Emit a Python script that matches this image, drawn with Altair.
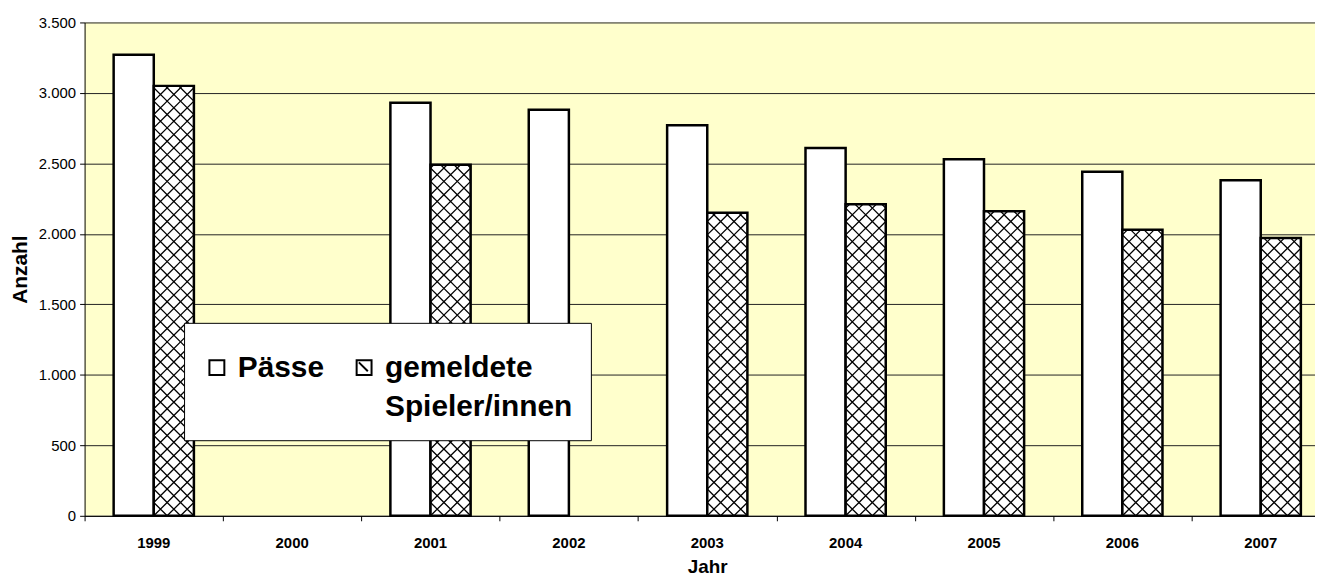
import altair as alt
import pandas as pd

# ---- data ----
years = ["1999", "2000", "2001", "2002", "2003", "2004", "2005", "2006", "2007"]
paesse = [3270, None, 2930, 2880, 2770, 2610, 2530, 2440, 2380]
gemeldet = [3050, None, 2490, None, 2150, 2210, 2160, 2030, 1970]
series = ["Pässe", "gemeldete Spieler/innen"]

rows = []
for y, p, g in zip(years, paesse, gemeldet):
    if p is not None:
        rows.append({"Jahr": y, "Serie": series[0], "Anzahl": p})
    if g is not None:
        rows.append({"Jahr": y, "Serie": series[1], "Anzahl": g})
df = pd.DataFrame(rows)

# ---- cross-hatch texture for the second series (derived from values) ----
RANGE_W = 1252
PLOT_H = 496
YMAX = 3500
cell_px = 0.29 * RANGE_W / 9 / 3          # three diamonds across a bar
cw = 0.29 / 3                              # cell width in category units
rs = cell_px / (PLOT_H / YMAX)             # cell height in value units
hx, hy, hs = [], [], []
for i, v in enumerate(gemeldet):
    if v is None:
        continue
    full = int(v // rs)
    rem = (v - full * rs) / rs
    nrows = full + (1 if rem > 0.05 else 0)
    for j in range(nrows):
        f = 1.0 if j < full else rem
        a = round(2 * f - 1, 3)
        b = round(1 - 2 * f, 3)
        path = f"M-1,1L{a},{b}M1,1L{b},{b}"
        for k in range(3):
            hx.append(i + 0.5 + (k + 0.5) * cw)
            hy.append((j + 0.5) * rs)
            hs.append(path)
hatch = pd.DataFrame({"hx": hx, "hy": hy, "shp": hs})

FONT = "Liberation Sans"
SQUARE = "M-1,-1L1,-1L1,1L-1,1Z"
SQUARE_HATCH = "M-1,-1L1,-1L1,1L-1,1ZM-0.7,-0.7L0.5,0.5"

yscale = alt.Scale(domain=[0, YMAX], nice=False)
xband = alt.Scale(domain=years, range=[0, RANGE_W], paddingInner=0.42, paddingOuter=0.21)
xcells = alt.Scale(domain=[0, 9], range=[0, RANGE_W], nice=False, zero=False)

bars = alt.Chart(df).mark_bar(stroke="black", strokeWidth=2.5).encode(
    x=alt.X(
        "Jahr:N",
        scale=xband,
        axis=alt.Axis(
            title="Jahr", orient="bottom", labelAngle=0, ticks=False, domainColor="black",
            labelFont=FONT, labelFontSize=15, labelFontWeight="bold",
            labelColor="black", labelPadding=20, titleFont=FONT, titleFontSize=19,
            titleFontWeight="bold", titleColor="black", titlePadding=7, grid=False,
        ),
    ),
    xOffset=alt.XOffset("Serie:N", scale=alt.Scale(domain=series, paddingInner=0, paddingOuter=0)),
    y=alt.Y(
        "Anzahl:Q",
        scale=yscale,
        axis=alt.Axis(
            title="Anzahl", values=list(range(0, 3501, 500)), tickSize=5, tickColor="black",
            domainColor="black", labelFont=FONT, labelFontSize=15, labelColor="black",
            labelPadding=4, labelExpr="replace(format(datum.value, ','), ',', '.')",
            titleFont=FONT, titleFontSize=21, titleFontWeight="bold", titleColor="black",
            titlePadding=8, grid=True, gridColor="#222222", gridWidth=1,
        ),
    ),
    fill=alt.value("white"),
)

texture = alt.Chart(hatch).mark_point(
    filled=False, stroke="black", strokeWidth=1.3, opacity=1, size=cell_px ** 2
).encode(
    x=alt.X(
        "hx:Q", scale=xcells,
        axis=alt.Axis(
            orient="bottom", values=list(range(0, 10)), labels=False, title=None,
            domain=False, ticks=True, tickSize=5, tickColor="black", grid=False,
        ),
    ),
    y=alt.Y("hy:Q", scale=yscale),
    shape=alt.Shape("shp:N", scale=None),
)

legend_src = alt.Chart(df).mark_point(filled=False, opacity=0).encode(
    x=alt.X("Jahr:N", scale=xband, axis=None),
    y=alt.Y("Anzahl:Q", scale=yscale),
    shape=alt.Shape(
        "Serie:N",
        scale=alt.Scale(domain=series, range=[SQUARE, SQUARE_HATCH]),
        legend=alt.Legend(
            title=" ", titleFontSize=6, titlePadding=6, orient="none", legendX=100,
            legendY=302, direction="horizontal", columns=2, columnPadding=25,
            padding=18, fillColor="white", strokeColor="black", symbolSize=225,
            symbolOpacity=1, symbolFillColor="white", symbolStrokeColor="black",
            symbolStrokeWidth=2, labelFont=FONT, labelFontSize=30,
            labelFontWeight="bold", labelColor="black", labelOffset=6, labelLimit=0,
            labelExpr="datum.label == 'gemeldete Spieler/innen' ? ['gemeldete', 'Spieler/innen'] : [datum.label, '']",
        ),
    ),
)

chart = alt.layer(bars, texture, legend_src).resolve_scale(x="independent").properties(
    width=1237, height=PLOT_H,
    autosize=alt.AutoSizeParams(type="none"),
    padding={"left": 77, "top": 13, "right": 0, "bottom": 59},
).configure(
    background="white",
    view=alt.ViewConfig(fill="#FFFFCC", stroke=None),
    style={"guide-label": {"lineHeight": 40}},
)

chart.save("out.html", embed_options={"renderer": "svg", "actions": False})
